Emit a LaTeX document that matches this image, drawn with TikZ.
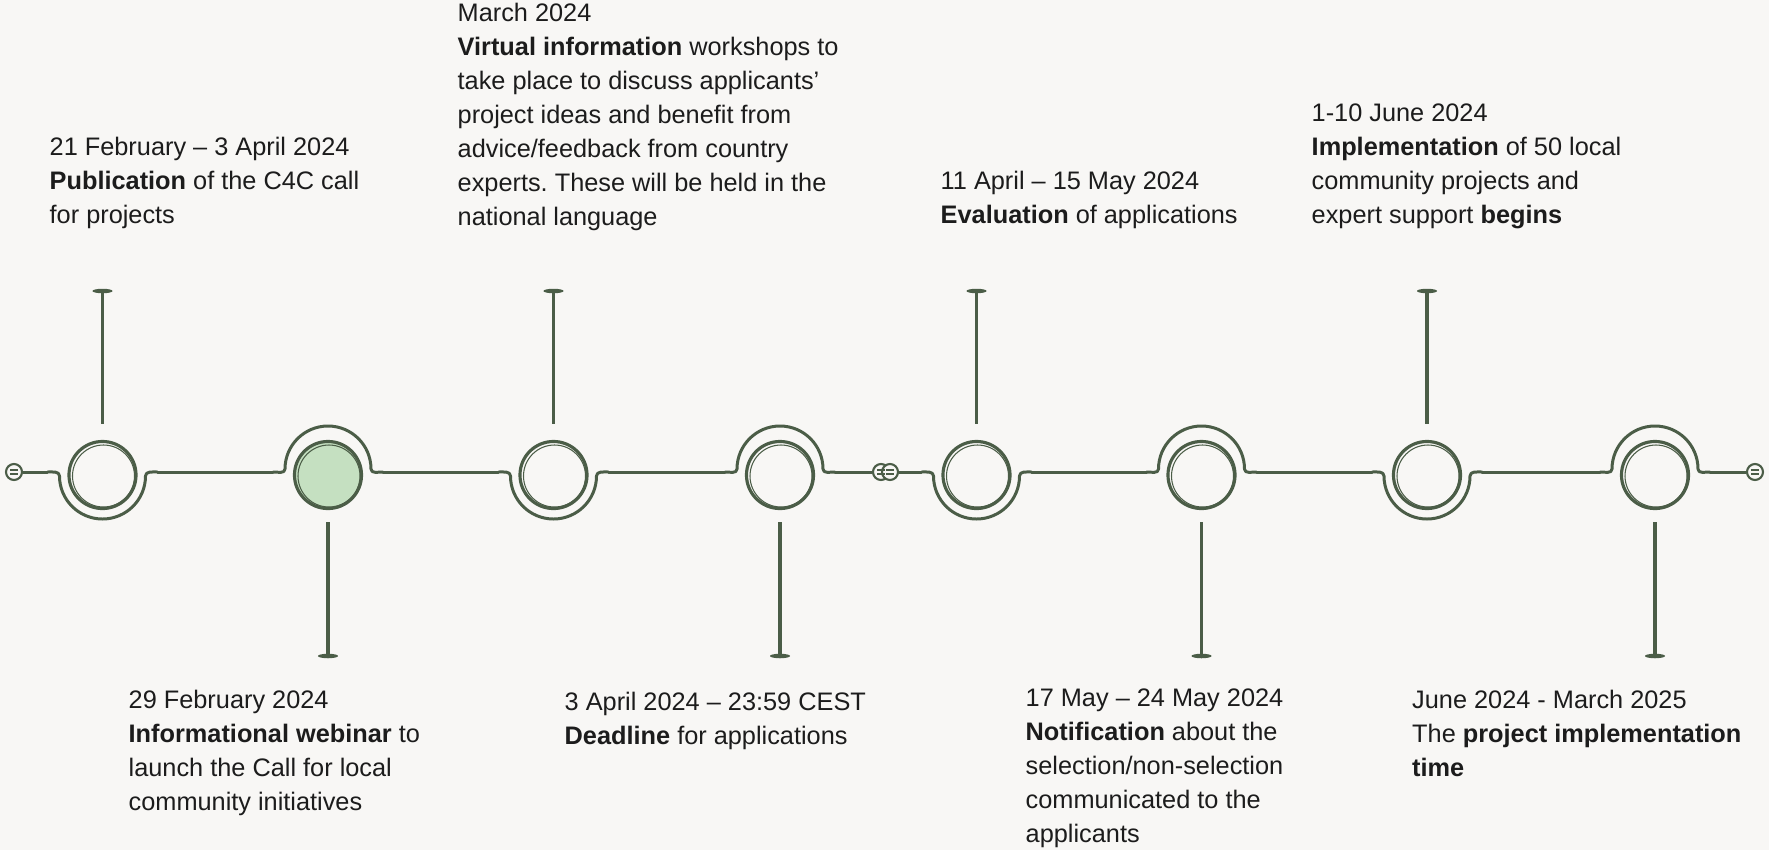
\documentclass[tikz,border=0pt]{standalone}
\usepackage{fontspec}
\setmainfont{Liberation Sans}
\usepackage{tikz}
\usetikzlibrary{positioning,calc,shapes.geometric}
\definecolor{paper}{HTML}{F8F7F5}
\definecolor{trackgreen}{HTML}{4B5D47}
\definecolor{ringfill}{HTML}{C5E0C1}
\definecolor{ink}{HTML}{1C1C1C}
\frenchspacing
\tikzset{
  track/.style={draw=trackgreen,line width=.85pt,line cap=round,line join=round},
  ring/.style={circle,draw=trackgreen,line width=.9pt,minimum size=.67cm,inner sep=0pt},
  sketch/.style={draw=trackgreen,line width=.3pt},
  endcap/.style={circle,draw=trackgreen,fill=paper,line width=.6pt,minimum size=.16cm,inner sep=0pt},
  pincap/.style={ellipse,fill=trackgreen,minimum width=.2cm,minimum height=.045cm,inner sep=0pt},
  stem/.style={draw=trackgreen,line width=1pt},
  note/.style={font=\fontsize{7.2}{9.67}\selectfont,text=ink,align=left,inner sep=0pt,anchor=north west},
}

\begin{document}
\begin{tikzpicture}[x=0.01cm,y=0.01cm]
  \fill[paper] (0,0) rectangle (1769,850);
  \foreach \n/\x/\s/\f in {1/102.5/-1/paper,2/328/1/ringfill,3/553.5/-1/paper,4/780/1/paper,
    5/976.5/-1/paper,6/1201.5/1/paper,7/1427/-1/paper,8/1655/1/paper}
  {
    \pgfmathsetmacro\cy{377.5+3.5*\s}
    \pgfmathsetmacro\ia{-90*\s}
    \pgfmathsetmacro\ea{180-180*\s}
    \coordinate (a\n) at (\x-55,378);
    \coordinate (b\n) at (\x+55,378);
    \draw[track] (a\n) to[out=0,in=\ia] (\x-43,\cy) arc[start angle=180,end angle=\ea,radius=43]
      to[out=\ia,in=180] (b\n);
    \node[ring,fill=\f] (c\n) at (\x,375) {};
    \draw[sketch] ($(c\n)+(1,-1)$) circle[radius=31];
    \node[pincap] (p\n) at (\x,{376.5-182.5*\s}) {};
    \coordinate (s\n) at (\x,{377-49*\s});
    \draw[stem] (p\n.center) -- (s\n);
  }
  \node[endcap] (e0) at (14,378) {};
  \node[endcap] (e9) at (1755,378) {};
  \node[endcap] (j1) at (881,378) {};
  \node[endcap] (j2) at (890,378) {};
  \foreach \m in {e0,e9,j1,j2}
    {\draw[sketch] ($(\m)+(-4,2)$) -- ($(\m)+(4,2)$) ($(\m)+(-4,-2)$) -- ($(\m)+(4,-2)$);}
  \draw[track] (e0) -- (a1) (b1) -- (a2) (b2) -- (a3) (b3) -- (a4) (b4) -- (j1)
    (j2) -- (a5) (b5) -- (a6) (b6) -- (a7) (b7) -- (a8) (b8) -- (e9);
  \node[note] (t1) at (49,713.5) {21 February -- 3 April 2024\\\textbf{Publication} of the C4C call\\for projects};
  \node[note] (t2) at (457,847.8) {March 2024\\\textbf{Virtual information} workshops to\\take place to discuss applicants'\\project ideas and benefit from\\advice/feedback from country\\experts. These will be held in the\\national language};
  \node[note] (t3) at (940,680) {11 April -- 15 May 2024\\\textbf{Evaluation} of applications};
  \node[note] (t4) at (1311,747) {1-10 June 2024\\\textbf{Implementation} of 50 local\\community projects and\\expert support \textbf{begins}};
  \node[note] (t5) at (128,161) {29 February 2024\\\textbf{Informational webinar} to\\launch the Call for local\\community initiatives};
  \node[note] (t6) at (564,159) {3 April 2024 -- 23:59 CEST\\\textbf{Deadline} for applications};
  \node[note] (t7) at (1025,161.5) {17 May -- 24 May 2024\\\textbf{Notification} about the\\selection/non-selection\\communicated to the\\applicants};
  \node[note] (t8) at (1411.5,161) {June 2024 - March 2025\\The \textbf{project implementation}\\\textbf{time}};
\end{tikzpicture}
\end{document}
